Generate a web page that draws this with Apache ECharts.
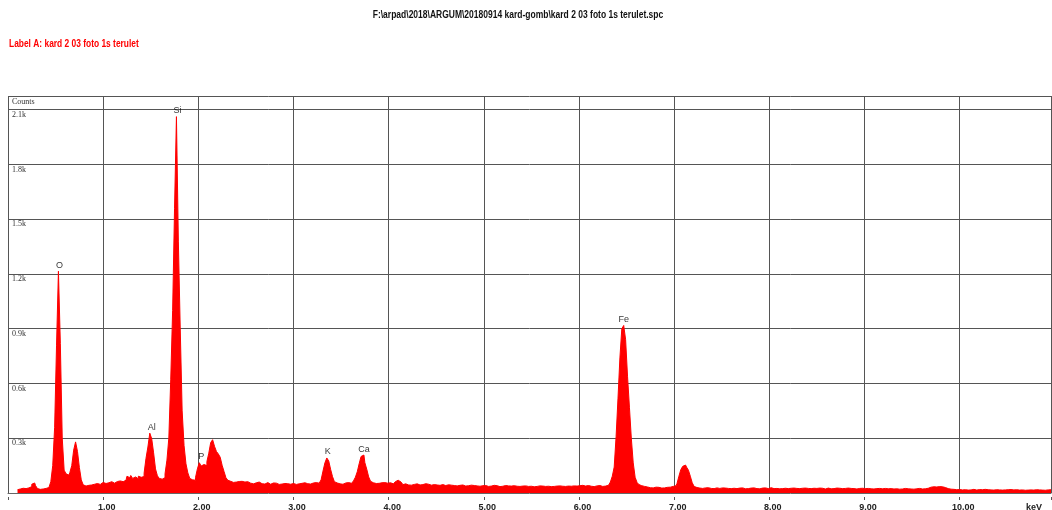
<!DOCTYPE html>
<html>
<head>
<meta charset="utf-8">
<script src="https://cdn.jsdelivr.net/npm/echarts@6/dist/echarts.min.js"></script>
<style>
  html, body { margin: 0; padding: 0; background: #fff; }
  #chart { width: 1052px; height: 510px; }
</style>
</head>
<body>
<div id="chart"></div>
<script>
// EDS spectrum: counts per 0.02 keV channel, first channel centred at 0.10 keV
const startKeV = 0.10;
const stepKeV = 0.02;

const counts0to1 = [18,22,20,26,24, 30,28,35,48,55, 40,24,20,22,18, 25,30,38,62,150,
  360,810,1215,820,300, 125,105,98,112,150, 235,280,228,140,72, 45,38,42,36,44, 48,42,52,47,55];
const counts1to2 = [58,52,60,56,62, 58,54,63,60,66, 62,72,70,92,84, 96,80,88,78,92,
  86,90,108,190,252, 328,298,220,132,94, 80,76,84,105,180, 300,620,1000,1560,2062,
  1380,900,450,260,160, 110,80,72,70,84];
const counts2to3 = [132,166,148,156,150, 172,218,276,292,256, 228,214,196,152,118, 84,70,64,58,66,
  60,63,57,64,60, 55,62,54,58,50, 56,53,60,51,55, 49,57,52,48,55, 50,54,47,53,49, 52,46,51,48,50];
const counts3to4 = [52,47,55,50,53, 48,56,51,54,49, 55,52,57,54,58, 72,120,165,192,176,
  130,90,62,55,50, 54,48,55,51,57, 53,58,66,86,116, 160,200,208,166,130, 88,64,56,52,58, 53,56,50,57,54];
const counts4to5 = [52,56,50,58,62, 70,60,52,46,50, 44,48,43,47,45, 50,44,49,46,51,
  45,48,43,49,46, 44,47,42,46,44, 41,45,40,43,41, 44,39,42,40,44, 38,42,40,43,38, 41,39,42,37,40];
const counts5to6 = [39,41,36,40,38, 42,37,40,35,39, 37,41,36,39,38, 35,40,37,41,36,
  38,35,39,36,40, 37,34,38,36,39, 35,38,36,40,37, 35,39,36,38,35, 39,37,40,36,38, 41,37,39,42,38];
const counts6to7 = [40,37,42,38,36, 41,37,40,35,39, 37,41,36,40,38, 42,48,60,92,142,
  310,520,740,900,918, 840,640,470,300,165, 86,58,46,40,36, 30,33,29,31,28, 32,29,31,27,30, 28,31,29,32,36];
const counts7to8 = [36,40,52,92,128, 146,153,142,125,92, 56,36,30,27,29, 25,28,26,29,25,
  27,24,28,26,25, 28,24,27,25,29, 24,26,28,24,27, 25,28,23,26,24, 27,25,28,24,26, 23,27,25,28,24];
const counts8to9 = [26,29,24,27,25, 23,27,24,26,28, 24,26,23,27,25, 28,24,26,23,27,
  25,29,24,26,23, 25,27,24,26,22, 25,27,23,25,24, 27,23,26,24,22, 25,27,23,25,24, 26,22,25,23,26];
const counts9to10 = [24,22,25,23,26, 22,24,21,25,23, 22,25,23,21,24, 22,25,23,21,24,
  22,25,21,23,22, 24,21,23,22,25, 22,24,23,26,29, 32,34,36,33,35, 32,34,30,27,24, 21,19,20,18,21];
const counts10to11 = [19,17,20,18,16, 19,17,20,18,16, 19,17,18,20,16, 18,17,19,16,18,
  20,17,16,19,17, 18,16,19,17,15, 18,16,19,17,15, 18,16,17,19,16, 18,15,17,16,18, 15,17,16,18];

// Element markers above the peaks
const peakNames = ['O', 'Al', 'Si', 'P', 'K', 'Ca', 'Fe'];
const peakKeV = [0.54, 1.51, 1.78, 2.03, 3.36, 3.74, 6.47];
const peakCounts = [1215, 328, 2062, 168, 192, 208, 918];

// Axis tick labels
const xTickLabels = ['1.00', '2.00', '3.00', '4.00', '5.00', '6.00', '7.00', '8.00', '9.00', '10.00'];
const yTickLabels = ['0.3k', '0.6k', '0.9k', '1.2k', '1.5k', '1.8k', '2.1k'];

const fileTitle = 'F:\\arpad\\2018\\ARGUM\\20180914 kard-gomb\\kard 2 03 foto 1s terulet.spc';
const spectrumLabel = 'Label A: kard 2 03 foto 1s terulet';

const allCounts = [].concat(counts0to1, counts1to2, counts2to3, counts3to4, counts4to5,
  counts5to6, counts6to7, counts7to8, counts8to9, counts9to10, counts10to11);
const spectrum = allCounts.map((c, i) => [+(startKeV + i * stepKeV).toFixed(2), c]);

const gridColor = '#555';
const headFont = 'Liberation Sans, Arial, sans-serif';
const chart = echarts.init(document.getElementById('chart'), null, { renderer: 'canvas' });

chart.setOption({
  animation: false,
  backgroundColor: '#fff',
  grid: { left: 8, right: 1, top: 96, bottom: 17, containLabel: false, outerBoundsMode: 'none' },
  xAxis: [{
    type: 'value', min: 0, max: 10.96, interval: 1, offset: 4,
    axisLine: { show: true, lineStyle: { color: '#666', width: 1 } },
    axisTick: { show: true, inside: true, length: 4, lineStyle: { color: gridColor } },
    axisLabel: {
      showMinLabel: false, showMaxLabel: false, margin: 6,
      fontFamily: headFont, fontSize: 9, fontWeight: 'bold', color: '#222',
      padding: [0, 0, 0, 7],
      formatter: v => (Number.isInteger(v) && v >= 1 && v <= 10) ? xTickLabels[v - 1] : ''
    },
    splitLine: { show: true, lineStyle: { color: gridColor, width: 1 } }
  }, {
    type: 'value', min: 0, max: 10.96, interval: 1, offset: 4, position: 'bottom',
    axisLine: { show: false },
    axisTick: { show: true, inside: false, length: 3, lineStyle: { color: gridColor } },
    axisLabel: { show: false },
    splitLine: { show: false }
  }],
  yAxis: {
    type: 'value', min: 0, max: 2175, interval: 300,
    axisLine: { show: false },
    axisTick: { show: false },
    axisLabel: {
      inside: true, showMinLabel: false, showMaxLabel: false,
      align: 'left', verticalAlign: 'top', margin: 4, padding: [1, 0, 0, 0],
      fontFamily: 'Liberation Serif, serif', fontSize: 8, color: '#333',
      formatter: v => (v > 0 && v % 300 === 0) ? yTickLabels[v / 300 - 1] : ''
    },
    splitLine: { show: true, showMinLine: false, lineStyle: { color: gridColor, width: 1 } }
  },
  graphic: [{
    // file name heading, condensed horizontally
    type: 'text', x: 518, y: 15, scaleX: 0.85, originX: 0, originY: 0,
    style: { text: fileTitle, font: 'bold 10px ' + headFont, fill: '#111', align: 'center', verticalAlign: 'middle' }
  }, {
    type: 'text', x: 9, y: 44, scaleX: 0.84,
    style: { text: spectrumLabel, font: 'bold 10px ' + headFont, fill: '#ff0000', align: 'left', verticalAlign: 'middle' }
  }, {
    type: 'text', left: 12, top: 98,
    style: { text: 'Counts', fontFamily: 'Liberation Serif, serif', fontSize: 8, fill: '#333' }
  }, {
    type: 'text', right: 10, top: 503,
    style: { text: 'keV', fontFamily: headFont, fontSize: 9, fontWeight: 'bold', fill: '#222' }
  }],
  series: [{
    type: 'line',
    xAxisIndex: 0,
    data: spectrum,
    step: 'middle',
    showSymbol: false,
    sampling: 'none',
    lineStyle: { color: '#ff0000', width: 1 },
    areaStyle: { color: '#ff0000', opacity: 1 },
    itemStyle: { color: '#ff0000' },
    z: 3
  }, {
    type: 'scatter',
    xAxisIndex: 0,
    data: peakNames.map((n, i) => ({ name: n, value: [peakKeV[i], peakCounts[i]] })),
    symbolSize: 1,
    itemStyle: { color: 'rgba(0,0,0,0)' },
    label: {
      show: true, position: 'top', distance: 1, formatter: '{b}',
      fontFamily: headFont, fontSize: 9, color: '#000'
    },
    z: 4
  }]
});
</script>
</body>
</html>
